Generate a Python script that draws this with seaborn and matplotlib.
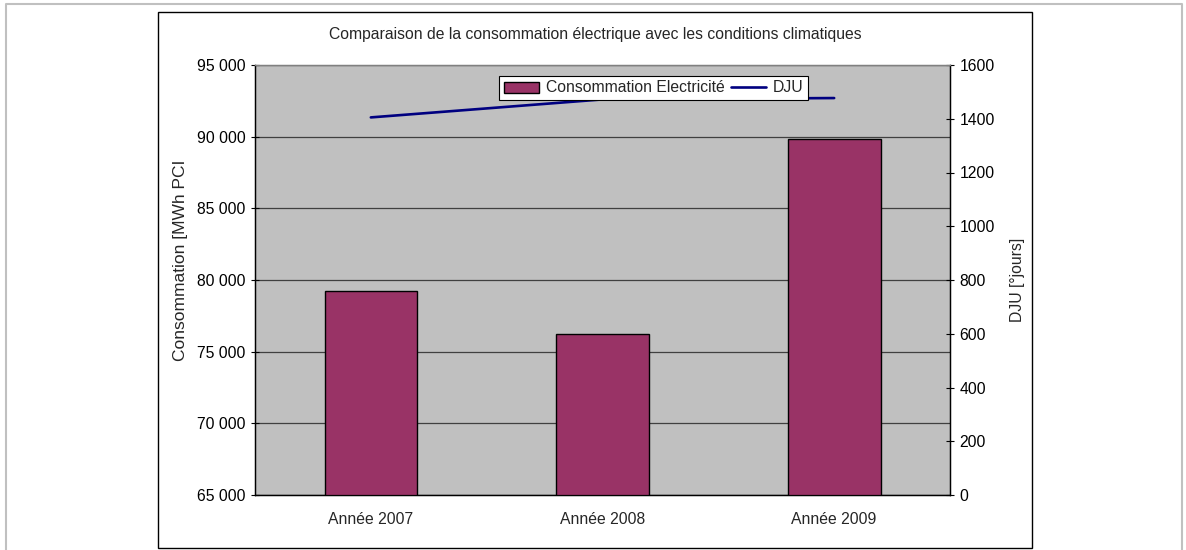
"""Consommation électrique vs DJU."""

import numpy as np
import pandas as pd
import matplotlib
matplotlib.use("Agg")
import matplotlib.pyplot as plt
from matplotlib.lines import Line2D
from matplotlib.patches import Patch, Rectangle
from matplotlib.ticker import FuncFormatter, MultipleLocator
import seaborn as sns

years = ["Année 2007", "Année 2008", "Année 2009"]
consommation = [79200, 76250, 89870]
dju = [1405, 1472, 1477]

BAR_COLOR = "#993366"
LINE_COLOR = "#000080"
PLOT_BG = "#C0C0C0"
FS = 11.3


def thousands(value: float, _: int) -> str:
  """Format with a space as thousands separator."""
  return f"{value:,.0f}".replace(",", " ")


sns.set_theme(style="white")
plt.rcParams["font.family"] = ["Liberation Sans", "DejaVu Sans"]
plt.rcParams["font.size"] = FS

fig = plt.figure(figsize=(11.86, 5.5), dpi=100)
ax1 = fig.add_axes([255 / 1186, 55 / 550, 695 / 1186, 430 / 550])
ax1.set_facecolor(PLOT_BG)

df = pd.DataFrame({"annee": years, "conso": consommation, "dju": dju})

sns.barplot(
  data=df,
  x="annee",
  y="conso",
  color=BAR_COLOR,
  saturation=1,
  width=0.4,
  edgecolor="black",
  linewidth=1,
  ax=ax1,
  zorder=3,
)
ax1.set_ylim(65000, 95000)
ax1.yaxis.set_major_locator(MultipleLocator(5000))
ax1.yaxis.set_major_formatter(FuncFormatter(thousands))
ax1.grid(axis="y", color="#404040", linewidth=0.9, zorder=0)
ax1.set_axisbelow(True)
ax1.set_xlabel("")
ax1.set_ylabel("Consommation [MWh PCI", fontsize=12.5)
ax1.yaxis.set_label_coords(-0.097, 0.545)
ax1.tick_params(axis="y", direction="inout", length=6, width=0.8,
                colors="black", labelsize=FS, pad=4, left=True)
ax1.tick_params(axis="x", length=0, labelsize=FS, pad=12)

# Line on secondary axis
ax2 = ax1.twinx()
sns.lineplot(
  x=np.arange(len(years)),
  y=df["dju"],
  color=LINE_COLOR,
  linewidth=1.9,
  ax=ax2,
  zorder=4,
)
ax2.set_ylim(0, 1600)
ax2.yaxis.set_major_locator(MultipleLocator(200))
ax2.set_ylabel("DJU [°jours]", fontsize=FS)
ax2.yaxis.set_label_coords(1.086, 0.5)
ax2.tick_params(axis="y", direction="inout", length=6, width=0.8,
                colors="black", labelsize=FS, pad=4, right=True)
ax1.set_xlim(-0.5, len(years) - 0.5)

for ax in (ax1, ax2):
  ax.spines["left"].set_color("black")
  ax.spines["bottom"].set_color("black")
  ax.spines["right"].set_color("black")
  ax.spines["top"].set_color("#808080")
  for s in ax.spines.values():
    s.set_linewidth(0.9)

# Legend
handles = [
  Patch(facecolor=BAR_COLOR, edgecolor="black", linewidth=1),
  Line2D([], [], color=LINE_COLOR, linewidth=1.9),
]
leg = ax2.legend(
  handles,
  ["Consommation Electricité", "DJU"],
  ncol=2,
  loc="center",
  bbox_to_anchor=(653.5 / 1186, 1 - 88 / 550),
  bbox_transform=fig.transFigure,
  fancybox=False,
  framealpha=1,
  edgecolor="black",
  fontsize=FS,
  handlelength=2.25,
  handletextpad=0.4,
  columnspacing=0.4,
  borderpad=0.3,
  borderaxespad=0,
)
leg.get_frame().set_linewidth(0.8)
leg.set_zorder(10)

# Title and chart frames
fig.text(595 / 1186, 1 - 35 / 550,
         "Comparaison de la consommation électrique avec les conditions climatiques",
         ha="center", va="center", fontsize=FS)
fig.patches.append(Rectangle((158 / 1186, 2 / 550), 874 / 1186, 536 / 550,
                             transform=fig.transFigure, fill=False,
                             edgecolor="black", linewidth=1.0))
fig.add_artist(Line2D([6 / 1186, 6 / 1186, 1182 / 1186, 1182 / 1186],
                      [0, 1 - 3.5 / 550, 1 - 3.5 / 550, 0],
                      transform=fig.transFigure, color="#C0C0C0", linewidth=1.5))

fig.savefig("out.png", dpi=100)
